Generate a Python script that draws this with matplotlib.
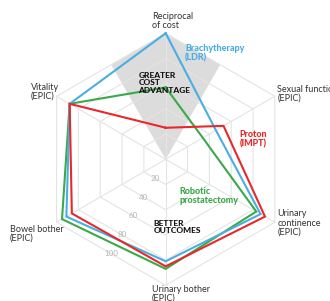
import numpy as np
import matplotlib
matplotlib.use("Agg")
import matplotlib.pyplot as plt

# axes, clockwise from the top
axis_names = ["Reciprocal\nof cost", "Sexual function\n(EPIC)", "Urinary\ncontinence\n(EPIC)",
              "Urinary bother\n(EPIC)", "Bowel bother\n(EPIC)", "Vitality\n(EPIC)"]
angles_deg = [90, 30, -30, -90, -150, 150]

brachy = [100, 46, 87, 81, 91, 88]
proton = [25, 53, 91, 85, 86, 88]
robotic = [57, 34, 83, 87, 95, 88]

rings = [20, 40, 60, 80, 100]
ring_labels = ["20", "40", "60", "80", "100"]

blue = "#4aaee3"
red = "#e8282b"
green = "#3aa948"

plt.rcParams['font.family'] = ['Lato', 'DejaVu Sans']

ang = np.radians(angles_deg)


def to_xy(vals, a=ang):
    v = np.asarray(vals, dtype=float)
    return v * np.cos(a), v * np.sin(a)


fig = plt.figure(figsize=(3.3, 3.01), dpi=100)
ax = fig.add_axes([0, 0, 1, 1])
ax.set_xlim(-131.5, 130.4)
ax.set_ylim(-112.5, 126.4)
ax.axis('off')

# grey "cost advantage" wedge between 60 and 120 degrees
wa = np.radians([60, 90, 120])
wx, wy = to_xy([100 * np.cos(np.radians(30)), 100, 100 * np.cos(np.radians(30))], wa)
ax.fill(np.r_[0, wx], np.r_[0, wy], color="#dcdcdc", lw=0, zorder=1)

# hexagon grid
for r in rings:
    x, y = to_xy([r] * 6)
    ax.plot(np.r_[x, x[0]], np.r_[y, y[0]], color="#e4e4e4", lw=0.8, zorder=2)
for a in ang:
    ax.plot([0, 100 * np.cos(a)], [0, 100 * np.sin(a)], color="#e4e4e4", lw=0.8, zorder=2)

# ring values along the 240 degree direction
ta = np.radians(240)
for r, lab in zip(rings, ring_labels):
    rr = r * np.cos(np.radians(30))
    ax.text(rr * np.cos(ta), rr * np.sin(ta), lab, color="#b5b5b5", fontsize=5.8,
            ha='center', va='center', zorder=3)

for vals, c in [(robotic, green), (brachy, blue), (proton, red)]:
    x, y = to_xy(vals)
    ax.plot(np.r_[x, x[0]], np.r_[y, y[0]], color=c, lw=1.5, solid_joinstyle='miter', zorder=4)

# axis labels (left aligned, pixel positions from the reference)
label_pos = [(151.7, 21), (277.3, 94), (277.3, 223), (151.7, 294), (10, 234), (31, 92)]
for name, (px, py) in zip(axis_names, label_pos):
    ax.text(px / 330, 1 - py / 301, name, transform=ax.transAxes, fontsize=6.5,
            color="#333333", ha='left', va='center', linespacing=1.0, zorder=5)

ax.text(185 / 330, 1 - 53 / 301, "Brachytherapy\n(LDR)", transform=ax.transAxes,
        fontsize=6.5, fontweight='black', color=blue, ha='left', va='center', linespacing=1.05, zorder=5)
ax.text(239.3 / 330, 1 - 139 / 301, "Proton\n(IMPT)", transform=ax.transAxes,
        fontsize=6.5, fontweight='black', color=red, ha='left', va='center', linespacing=1.05, zorder=5)
ax.text(179 / 330, 1 - 196 / 301, "Robotic\nprostatectomy", transform=ax.transAxes,
        fontsize=6.5, fontweight='black', color=green, ha='left', va='center', linespacing=1.05, zorder=5)
ax.text(138.3 / 330, 1 - 83 / 301, "GREATER\nCOST\nADVANTAGE", transform=ax.transAxes,
        fontsize=6.0, fontweight='black', color="#111111", ha='left', va='center', linespacing=1.15, zorder=5)
ax.text(153.3 / 330, 1 - 227 / 301, "BETTER\nOUTCOMES", transform=ax.transAxes,
        fontsize=6.0, fontweight='black', color="#111111", ha='left', va='center', linespacing=1.15, zorder=5)

fig.savefig("out.png", dpi=100)
